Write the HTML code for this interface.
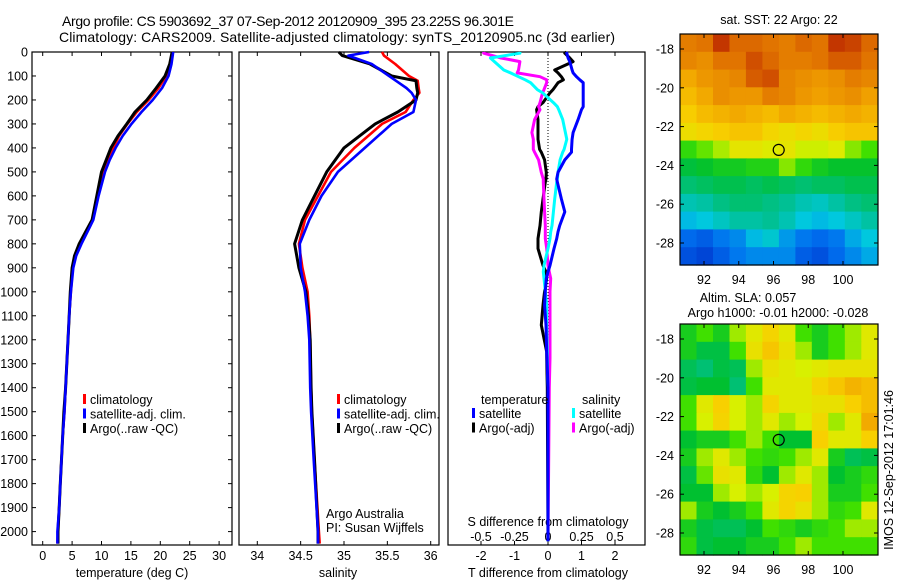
<!DOCTYPE html>
<html><head><meta charset="utf-8"><style>
body{margin:0;background:#fff;}
svg{display:block;font-family:"Liberation Sans",sans-serif;}
text{fill:#000;}
</style></head><body>
<svg id="fig" width="900" height="580" viewBox="0 0 900 580">
<g id="static">
<text x="62" y="26" font-size="14" textLength="452">Argo profile: CS 5903692_37 07-Sep-2012 20120909_395 23.225S 96.301E</text>
<text x="59" y="42" font-size="14" textLength="556">Climatology: CARS2009. Satellite-adjusted climatology: synTS_20120905.nc (3d earlier)</text>
<text x="132" y="577" font-size="12.5" text-anchor="middle">temperature (deg C)</text>
<text x="338" y="577" font-size="12.5" text-anchor="middle">salinity</text>
<text x="548" y="577" font-size="12.5" text-anchor="middle">T difference from climatology</text>
<text x="548" y="526" font-size="12.5" text-anchor="middle">S difference from climatology</text>
<text x="326" y="518" font-size="12.5">Argo Australia</text>
<text x="326" y="532" font-size="12.5">PI: Susan Wijffels</text>
<text x="779" y="24" font-size="12.5" text-anchor="middle">sat. SST: 22 Argo: 22</text>
<text x="748" y="302" font-size="12.5" text-anchor="middle">Altim. SLA: 0.057</text>
<text x="778" y="317" font-size="12.5" text-anchor="middle">Argo h1000: -0.01 h2000: -0.028</text>
<text transform="translate(893,470) rotate(-90)" font-size="12.5" text-anchor="middle">IMOS 12-Sep-2012 17:01:46</text>
</g>
<g id="plots"></g>
</svg>
<script>
// ---- profile data (depth in dbar) ----
const depthT = [0,50,100,150,200,250,300,350,400,450,500,600,700,750,800,850,900,1000,1100,1200,1300,1400,1500,1600,1700,1800,1900,2000,2050];
const tempClim = [22.1,21.7,21.0,19.7,18.0,16.0,14.4,13.0,12.0,11.0,10.3,9.3,8.5,7.4,6.4,5.6,5.1,4.8,4.5,4.3,4.1,3.9,3.7,3.4,3.2,3.0,2.8,2.6,2.5];
const tempSat  = [22.2,21.9,21.4,20.3,18.7,16.8,15.1,13.6,12.4,11.4,10.6,9.5,8.6,7.6,6.6,5.7,5.2,4.8,4.5,4.3,4.1,3.9,3.7,3.4,3.2,3.0,2.8,2.5,2.5];
const tempArgo = [22.0,21.6,20.8,19.3,17.7,15.7,14.3,12.8,11.6,10.8,10.0,9.2,8.4,7.3,6.2,5.4,5.0,4.7,4.5,4.3,4.1,3.9,3.6,3.4,3.2,3.0,2.8,2.6,2.6];
const depthS = [0,15,50,100,120,150,170,200,250,300,400,500,600,700,800,900,1000,1100,1200,1400,1500,1700,2000,2050];
const salClim = [35.44,35.46,35.59,35.75,35.85,35.86,35.87,35.8,35.71,35.44,35.12,34.85,34.70,34.55,34.48,34.52,34.58,34.60,34.61,34.62,34.63,34.66,34.71,34.72];
const salSat  = [35.29,35.05,35.32,35.52,35.6,35.72,35.78,35.83,35.8,35.55,35.24,34.93,34.74,34.60,34.49,34.50,34.55,34.58,34.60,34.61,34.62,34.65,34.70,34.70];
const salArgo = [34.94,34.98,35.3,35.55,35.83,35.84,35.85,35.83,35.62,35.36,35.0,34.8,34.66,34.52,34.43,34.48,34.56,34.59,34.61,34.62,34.63,34.66,34.70,34.70];
// ---- difference data ----
const depthD = [0,5,25,40,75,87,103,116,128,157,170,211,228,240,282,336,364,406,418,450,502,530,543,613,667,724,750,778,820,890,917,944,998,1056,1139,1250,1276,1400,2040];
const dTsat  = [0.55,0.56,0.6,0.65,0.72,0.75,0.85,0.95,1.05,1.05,1.05,1.05,1.05,1.0,0.9,0.75,0.72,0.7,0.7,0.5,0.3,0.26,0.28,0.4,0.5,0.35,0.3,0.26,0.18,0.06,0.0,-0.05,-0.08,-0.1,-0.06,-0.04,-0.03,0.0,0.0];
const dTargo = [0.55,0.5,0.65,0.75,0.2,0.3,0.4,0.46,0.3,0.15,0.06,-0.15,-0.3,-0.34,-0.3,-0.3,-0.3,-0.25,-0.2,-0.1,-0.05,-0.06,-0.08,-0.15,-0.2,-0.24,-0.27,-0.3,-0.3,-0.15,-0.06,-0.04,-0.1,-0.15,-0.2,-0.04,-0.04,-0.02,0.0];
const dSsat  = [-0.21,-0.21,-0.43,-0.4,-0.33,-0.28,-0.22,-0.17,-0.13,-0.08,-0.04,0.04,0.07,0.08,0.11,0.13,0.14,0.12,0.11,0.09,0.075,0.07,0.065,0.05,0.04,0.03,0.02,0.015,0.0,-0.03,-0.035,-0.03,-0.02,-0.01,-0.01,-0.005,-0.005,0.0,0.0];
const dSargo = [-0.48,-0.48,-0.35,-0.21,-0.22,-0.23,-0.06,-0.01,-0.01,-0.03,-0.04,-0.06,-0.07,-0.06,-0.1,-0.12,-0.11,-0.11,-0.1,-0.07,-0.05,-0.035,-0.035,-0.03,-0.025,-0.02,-0.02,-0.02,-0.01,0.0,0.01,0.02,0.015,0.015,0.015,0.015,0.015,0.01,0.0];
// ---- tick labels ----
const depthTicks = [0,100,200,300,400,500,600,700,800,900,1000,1100,1200,1300,1400,1500,1600,1700,1800,1900,2000];
const tempTicks = [0,5,10,15,20,25,30];
const salTicks = [34,34.5,35,35.5,36];
const dTTicks = [-2,-1,0,1,2];
const dSTicks = [-0.5,-0.25,0,0.25,0.5];
const lonTicks = [92,94,96,98,100];
const latTicks = [-18,-20,-22,-24,-26,-28];
// ---- map grids (13 rows from -17.2 south, 12 cols from 90.6 east) ----
const sstGrid = [
[23.6,23.7,24.2,23.8,23.8,23.7,23.6,23.8,23.7,24.2,24.1,23.8],
[23.5,23.4,23.7,23.7,24.0,23.8,23.6,23.6,23.7,23.9,23.9,23.7],
[23.1,23.3,23.4,23.5,23.9,24.0,23.5,23.4,23.3,23.4,23.6,23.5],
[22.9,23.1,23.4,23.3,23.3,23.6,23.5,23.3,23.2,23.3,23.4,23.2],
[22.7,22.9,23.0,23.1,23.0,22.9,23.1,23.0,22.9,23.0,23.1,23.0],
[22.5,22.6,22.7,22.8,22.8,22.6,22.5,22.6,22.5,22.7,22.8,22.8],
[21.7,21.9,22.1,22.4,22.4,22.3,22.4,22.2,22.2,22.3,22.0,21.8],
[21.3,21.4,21.5,21.5,21.6,21.6,22.0,21.7,21.5,21.4,21.4,21.4],
[21.0,21.1,21.2,21.2,21.1,21.2,21.1,21.0,21.1,21.1,21.2,21.2],
[20.6,20.7,20.9,21.0,21.0,20.9,20.8,20.6,20.5,20.7,20.9,21.0],
[20.2,20.3,20.5,20.7,20.7,20.8,20.6,20.3,20.2,20.3,20.5,20.7],
[19.7,19.6,19.8,19.9,20.2,20.4,20.0,19.8,19.7,19.8,20.1,20.3],
[19.5,19.4,19.6,19.8,19.9,19.9,19.9,19.6,19.5,19.7,19.9,20.1]];
const slaGrid = [
[.45,.5,.45,.55,.6,.65,.6,.5,.45,.5,.55,.6],
[.45,.4,.4,.5,.62,.68,.62,.55,.45,.5,.55,.6],
[.38,.35,.4,.38,.55,.62,.6,.58,.6,.62,.62,.62],
[.4,.42,.42,.35,.5,.6,.6,.6,.65,.68,.72,.7],
[.5,.6,.66,.58,.55,.65,.6,.6,.62,.62,.66,.7],
[.5,.58,.65,.58,.55,.6,.55,.58,.64,.55,.6,.74],
[.42,.45,.45,.5,.55,.5,.42,.42,.66,.6,.6,.66],
[.45,.55,.6,.55,.5,.48,.5,.55,.6,.45,.38,.4],
[.4,.52,.62,.6,.48,.42,.55,.6,.55,.42,.45,.48],
[.42,.42,.55,.58,.55,.58,.65,.66,.55,.45,.45,.5],
[.55,.45,.42,.45,.5,.6,.65,.62,.55,.48,.5,.6],
[.45,.4,.38,.38,.42,.5,.48,.45,.48,.5,.55,.55],
[.48,.4,.42,.42,.45,.45,.5,.55,.5,.5,.5,.5]];
const argoLon = 96.3, argoLat = -23.2;

const NS = 'http://www.w3.org/2000/svg';
const root = document.getElementById('plots');
function mk(tag, attrs, parent){ const e=document.createElementNS(NS,tag); for(const k in attrs) e.setAttribute(k,attrs[k]); (parent||root).appendChild(e); return e; }
const yD = d => 52 + d*0.2398;
const xT = t => 42.7 + t*5.88;
const xS = s => 257.3 + (s-34)*86.7;
const xDT = t => 548 + t*33.5;
const xDS = s => 548 + s*134;

function frame(x0,x1,name){ const r=mk('rect',{x:x0,y:52,width:x1-x0,height:493,fill:'none',stroke:'#000','stroke-width':1.2});
  
   }
frame(32,232,'temperature-panel-frame'); frame(239,439,'salinity-panel-frame'); frame(448,645,'difference-panel-frame');

// depth ticks
depthTicks.forEach(d=>{ const y=yD(d);
  const t=mk('text',{x:28,y:y+4.5,'font-size':12.5,'text-anchor':'end'}); t.textContent=d;
  
  
  mk('line',{x1:32,x2:36,y1:y,y2:y,stroke:'#000'}); mk('line',{x1:228,x2:232,y1:y,y2:y,stroke:'#000'});
});
function xticks(arr,fx,ylab,name){ arr.forEach(v=>{ const x=fx(v);
  mk('line',{x1:x,x2:x,y1:545,y2:541,stroke:'#000'}); mk('line',{x1:x,x2:x,y1:52,y2:56,stroke:'#000'});
  const t=mk('text',{x:x,y:ylab,'font-size':12.5,'text-anchor':'middle'}); t.textContent=v;
  
   }); }
xticks(tempTicks,xT,560,'temperature-tick-label');
xticks(salTicks,xS,560,'salinity-tick-label');
xticks(dTTicks,xDT,560,'t-difference-tick-label');
dSTicks.forEach(v=>{ const t=mk('text',{x:xDS(v),y:541,'font-size':12.5,'text-anchor':'middle'}); t.textContent=String(v).replace('-','\u2212').replace('\u2212','-');
  
   });
mk('line',{x1:xDT(0),x2:xDT(0),y1:52,y2:545,stroke:'#000','stroke-dasharray':'1,2'});

function line(xs,ds,fx,color,name,w){ const pts=xs.map((v,i)=>fx(v).toFixed(1)+','+yD(ds[i]).toFixed(1)).join(' ');
  const p=mk('polyline',{points:pts,fill:'none',stroke:color,'stroke-width':w||2.6,'stroke-linejoin':'round'});
  
   }
line(tempClim,depthT,xT,'#f00','temperature-climatology-line');
line(tempArgo,depthT,xT,'#000','temperature-argo-line',3);
line(tempSat,depthT,xT,'#00f','temperature-satellite-line');
line(salClim,depthS,xS,'#f00','salinity-climatology-line');
line(salArgo,depthS,xS,'#000','salinity-argo-line',3);
line(salSat,depthS,xS,'#00f','salinity-satellite-line');
line(dTargo,depthD,xDT,'#000','t-diff-argo-line',3);
line(dSargo,depthD,xDS,'#f0f','s-diff-argo-line',3);
line(dSsat,depthD,xDS,'#0ff','s-diff-satellite-line',3);
line(dTsat,depthD,xDT,'#00f','t-diff-satellite-line',3);

function legend(x,y,labels,colors,name){ labels.forEach((l,i)=>{ const yy=y+i*14.5;
  mk('rect',{x:x,y:yy-6,width:3,height:10,fill:colors[i]});
  const t=mk('text',{x:x+7,y:yy+4,'font-size':12.5}); t.textContent=l;
  
   }); }
legend(83,400,['climatology','satellite-adj. clim.','Argo(..raw -QC)'],['#f00','#00f','#000'],'temperature-legend');
legend(337,400,['climatology','satellite-adj. clim.','Argo(..raw -QC)'],['#f00','#00f','#000'],'salinity-legend');
let tt=mk('text',{x:481,y:404,'font-size':12.5}); tt.textContent='temperature';
 
tt=mk('text',{x:582,y:404,'font-size':12.5}); tt.textContent='salinity';
 
legend(472,414,['satellite','Argo(-adj)'],['#00f','#000'],'diff-temperature-legend');
legend(572,414,['satellite','Argo(-adj)'],['#0ff','#f0f'],'diff-salinity-legend');

// ---- maps ----
const stops=[[0,[0,32,192]],[0.12,[0,112,240]],[0.22,[0,200,224]],[0.32,[0,192,144]],[0.42,[0,192,48]],[0.5,[64,224,0]],[0.58,[216,240,0]],[0.66,[248,208,0]],[0.76,[240,160,0]],[0.86,[224,112,0]],[1,[176,16,0]]];
function cmap(t){ t=Math.max(0,Math.min(1,t)); for(let i=1;i<stops.length;i++){ if(t<=stops[i][0]){ const a=stops[i-1],b=stops[i],f=(t-a[0])/(b[0]-a[0]); const c=a[1].map((v,k)=>Math.round(v+(b[1][k]-v)*f)); return 'rgb('+c+')'; } } return 'rgb(176,16,0)'; }
function map(top,grid,norm,name){
  const bottom=top+231, lx=lon=>686.6+(lon-91)*17.375+ (704-(686.6+17.375))*0, ly=lat=>top+15+(-18-lat)*19.4;
  const X=lon=>704+(lon-92)*17.375;
  const g=mk('g',{});  
  const nr=grid.length,nc=grid[0].length, lon0=90.62,lon1=102, lat0=-17.23, lat1=-29.13;
  grid.forEach((row,j)=>row.forEach((v,i)=>{
    const x0=X(lon0+(lon1-lon0)*i/nc), x1=X(lon0+(lon1-lon0)*(i+1)/nc);
    const y0=ly(lat0+(lat1-lat0)*j/nr), y1=ly(lat0+(lat1-lat0)*(j+1)/nr);
    const r=mk('rect',{x:x0.toFixed(1),y:y0.toFixed(1),width:(x1-x0+0.6).toFixed(1),height:(y1-y0+0.6).toFixed(1),fill:cmap(norm(v))},g);
      }));
  const f=mk('rect',{x:680,y:top,width:198,height:231,fill:'none',stroke:'#000','stroke-width':1.2});
   
  lonTicks.forEach(lon=>{ const x=X(lon); mk('line',{x1:x,x2:x,y1:top+231,y2:top+227,stroke:'#000'}); mk('line',{x1:x,x2:x,y1:top,y2:top+4,stroke:'#000'});
    const t=mk('text',{x:x,y:top+250,'font-size':12.5,'text-anchor':'middle'}); t.textContent=lon;
      });
  latTicks.forEach(lat=>{ const y=ly(lat); mk('line',{x1:680,x2:684,y1:y,y2:y,stroke:'#000'}); mk('line',{x1:874,x2:878,y1:y,y2:y,stroke:'#000'});
    const t=mk('text',{x:674,y:y+4.5,'font-size':12.5,'text-anchor':'end'}); t.textContent=lat;
      });
  const c=mk('circle',{cx:X(argoLon),cy:ly(argoLat),r:5.5,fill:'none',stroke:'#000','stroke-width':1.2});
   
}
map(34,sstGrid,v=>(v-19.1)/(24.5-19.1),'sst-map');
map(324,slaGrid,v=>v,'sla-map');
</script>
</body></html>
